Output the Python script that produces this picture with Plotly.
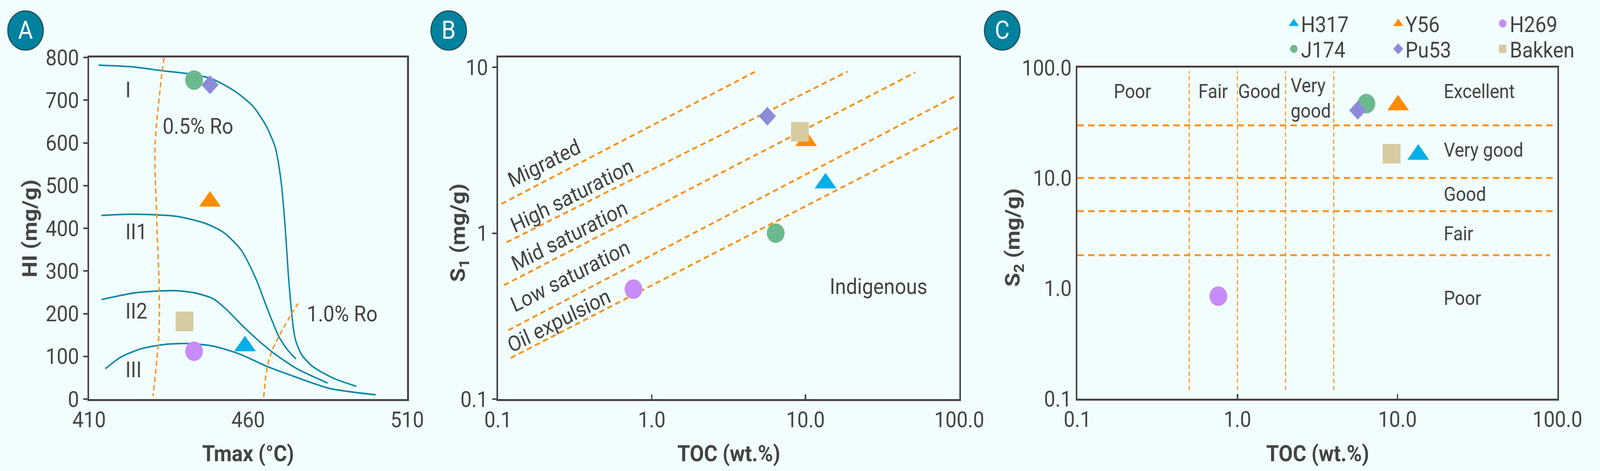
import numpy as np
import plotly.graph_objects as go

# sample data
wells = ["H317", "Y56", "H269", "J174", "Pu53", "Bakken"]
tmax = [459, 448, 443, 443, 448, 440]
hi = [124, 463, 112, 747, 736, 182]
toc = [13.5, 10.1, 0.76, 6.4, 5.65, 9.2]
s1 = [2.0, 3.6, 0.46, 1.0, 5.07, 4.08]
s2 = [16.3, 45.7, 0.85, 47.2, 41.0, 16.6]

# kerogen type curves (panel A)
type_i_t = [413.0, 423.6, 432.9, 441.2, 448.6, 456.0, 461.6, 465.7, 468.5, 470.3, 471.6,
            472.6, 473.7, 474.4, 475.2, 476.9, 480.0, 483.4, 487.7, 494.0]
type_i_hi = [782, 778, 769, 762, 750, 720, 685, 639, 590, 513, 407,
             295, 200, 156, 131, 103, 78, 62, 46, 30]
type_ii1_t = [413.9, 423.6, 437.5, 446.7, 452.3, 457.9, 462.5, 465.3, 467.5, 469.6, 472.2, 475.0]
type_ii1_hi = [430, 433, 428, 411, 390, 348, 281, 226, 184, 147, 117, 94]
type_ii2_t = [413.9, 424.5, 436.6, 443.0, 449.0, 453.3, 457.5, 463.1, 468.3, 475.6, 485.0]
type_ii2_hi = [233, 249, 254, 249, 235, 209, 177, 138, 106, 70, 37.5]
type_iii_t = [415.1, 419.9, 426.4, 433.8, 441.2, 449.0, 457.5, 466.1, 474.8, 485.6, 500.1]
type_iii_hi = [71, 98, 118, 128, 130, 124, 105, 76, 52, 25, 10]

# vitrinite reflectance lines
ro05_t = [433.6, 433.0, 432.2, 431.3, 430.8, 430.7, 431.0, 431.4, 432.0, 432.0, 431.0, 430.1]
ro05_hi = [799, 770, 717, 654, 602, 549, 479, 390, 267, 161, 70, 7]
ro10_t = [464.9, 466.0, 467.5, 469.6, 473.7, 475.7]
ro10_hi = [5, 75, 113, 146, 200, 224]

# saturation boundaries (panel B), start and end points
sat_x0 = [0.105, 0.1135, 0.1094, 0.1167, 0.121]
sat_y0 = [1.50, 0.88, 0.486, 0.26, 0.177]
sat_x1 = [4.72, 18.8, 51.8, 93.8, 100]
sat_y1 = [9.42, 9.42, 9.31, 6.68, 4.36]

# source rock quality bounds (panel C)
toc_class = [0.5, 1, 2, 4]
s2_class = [2, 5, 10, 30]
s2_line_end = [90, 97, 97, 97]

colors = ["#00AEE8", "#FF8C00", "#C88CF8", "#6DB98E", "#8B8BD9", "#D6CBA0"]
symbols = ["triangle-up", "triangle-up", "circle", "circle", "diamond", "square"]
sizes = [53, 53, 50, 50, 37, 50]

TXT = "#444444"
ORANGE = "#F7931E"
TEAL = "#0A87A6"
BG = "#F2FEFE"
FONT = "Roboto"
W, H = 4505, 1205

fig = go.Figure()

# ---- panel A
for t, h in [(type_i_t, type_i_hi), (type_ii1_t, type_ii1_hi),
             (type_ii2_t, type_ii2_hi), (type_iii_t, type_iii_hi)]:
    fig.add_trace(go.Scatter(x=t, y=h, mode="lines", line=dict(color=TEAL, width=4, shape="spline", smoothing=0.7),
                             showlegend=False, hoverinfo="skip", xaxis="x", yaxis="y"))
for t, h in [(ro05_t, ro05_hi), (ro10_t, ro10_hi)]:
    fig.add_trace(go.Scatter(x=t, y=h, mode="lines", line=dict(color=ORANGE, width=4, dash="13px,8px", shape="spline"),
                             showlegend=False, hoverinfo="skip", xaxis="x", yaxis="y"))

# ---- panel B
for i in range(len(sat_x0)):
    fig.add_trace(go.Scatter(x=[sat_x0[i], sat_x1[i]], y=[sat_y0[i], sat_y1[i]], mode="lines",
                             line=dict(color=ORANGE, width=5, dash="15px,10px"),
                             showlegend=False, hoverinfo="skip", xaxis="x2", yaxis="y2"))

# ---- panel C
for v in toc_class:
    fig.add_trace(go.Scatter(x=[v, v], y=[0.12, 93], mode="lines",
                             line=dict(color=ORANGE, width=3, dash="11px,7px"),
                             showlegend=False, hoverinfo="skip", xaxis="x3", yaxis="y3"))
for v, e in zip(s2_class, s2_line_end):
    fig.add_trace(go.Scatter(x=[0.1, e], y=[v, v], mode="lines",
                             line=dict(color=ORANGE, width=5, dash="18px,12px"),
                             showlegend=False, hoverinfo="skip", xaxis="x3", yaxis="y3"))

# sample markers in all three panels
for i, w in enumerate(wells):
    mk = dict(symbol=symbols[i], color=colors[i], size=sizes[i], line=dict(width=0))
    fig.add_trace(go.Scatter(x=[tmax[i]], y=[hi[i]], mode="markers", marker=mk, name=w,
                             showlegend=False, xaxis="x", yaxis="y"))
    fig.add_trace(go.Scatter(x=[toc[i]], y=[s1[i]], mode="markers", marker=mk, name=w,
                             showlegend=False, xaxis="x2", yaxis="y2"))
    fig.add_trace(go.Scatter(x=[toc[i]], y=[s2[i]], mode="markers", marker=mk, name=w,
                             showlegend=False, xaxis="x3", yaxis="y3"))
    # legend keys
    fig.add_trace(go.Scatter(x=[None], y=[None], mode="markers", name=w,
                             marker=dict(symbol=symbols[i], color=colors[i], size=16,
                                         line=dict(color=colors[i], width=5)),
                             legend="legend" if i < 3 else "legend2", xaxis="x3", yaxis="y3"))

tick_font = dict(family=FONT, size=56, color=TXT)
title_font = dict(family=FONT, size=58, color=TXT, weight="bold")
base = dict(showline=True, mirror=True, linecolor=TXT, linewidth=5, showgrid=False, zeroline=False,
            tickfont=tick_font, tickcolor=TXT, tickwidth=4, ticklen=12, automargin=False)

def dom(a, b, n):
    return [a / n, b / n]

fig.update_layout(
    template="none",
    width=W, height=H, margin=dict(l=0, r=0, t=0, b=0),
    paper_bgcolor=BG, plot_bgcolor=BG,
    font=dict(family=FONT, color=TXT),
    xaxis=dict(base, domain=dom(251, 1147, W), anchor="y", range=[410, 510], tickvals=[410, 460, 510], ticks=""),
    yaxis=dict(base, domain=[1 - 1021 / H, 1 - 147 / H], anchor="x", range=[0, 800], dtick=100, ticks="outside"),
    xaxis2=dict(base, domain=dom(1403, 2702, W), anchor="y2", type="log", range=[-1, 2],
                tickvals=[0.1, 1, 10, 100], ticktext=["0.1", "1.0", "10.0", "100.0"], ticks="inside"),
    yaxis2=dict(base, domain=[1 - 1021 / H, 1 - 147 / H], anchor="x2", type="log", range=[-1, 1.059],
                tickvals=[0.1, 1, 10], ticktext=["0.1", "1", "10"], ticks="outside"),
    xaxis3=dict(base, domain=dom(3035, 4387, W), anchor="y3", type="log", range=[-1, 2],
                tickvals=[0.1, 1, 10, 100], ticktext=["0.1", "1.0", "10.0", "100.0"], ticks="inside"),
    yaxis3=dict(base, domain=[1 - 1020 / H, 1 - 173 / H], anchor="x3", type="log", range=[-1, 2],
                tickvals=[0.1, 1, 10, 100], ticktext=["0.1", "1.0", "10.0", "100.0"], ticks=""),
    legend=dict(orientation="h", x=3625 / W, xanchor="left", y=1 - 60 / H, yanchor="middle",
                font=dict(family=FONT, size=56, color=TXT), bgcolor="rgba(0,0,0,0)",
                entrywidth=249, entrywidthmode="pixels", itemclick=False),
    legend2=dict(orientation="h", x=3625 / W, xanchor="left", y=1 - 125 / H, yanchor="middle",
                 font=dict(family=FONT, size=56, color=TXT), bgcolor="rgba(0,0,0,0)",
                 entrywidth=249, entrywidthmode="pixels", itemclick=False),
)

# axis titles, placed as in the reference
for txt, cx, cy, ang in [("Tmax (°C)", 699, 1160, 0), ("TOC (wt.%)", 2053, 1160, 0), ("TOC (wt.%)", 3712, 1160, 0),
                         ("HI (mg/g)", 83, 584, -90), ("S<sub>1</sub> (mg/g)", 1293, 595, -90),
                         ("S<sub>2</sub> (mg/g)", 2856, 608, -90)]:
    fig.add_annotation(x=cx / W, y=1 - cy / H, xref="paper", yref="paper", text=txt, showarrow=False,
                       font=title_font, textangle=ang, xanchor="center", yanchor="middle")

# panel badges
for letter, cx in [("A", 72), ("B", 1264), ("C", 2823)]:
    fig.add_shape(type="circle", xref="paper", yref="paper",
                  x0=(cx - 50) / W, x1=(cx + 50) / W, y0=1 - 128 / H, y1=1 - 28 / H,
                  fillcolor="#00829F", line=dict(color="#1F4F5C", width=3))
    fig.add_annotation(x=cx / W, y=1 - 78 / H, xref="paper", yref="paper", text=letter, showarrow=False,
                       font=dict(family=FONT, size=64, color="white"), xanchor="center", yanchor="middle")

lbl = dict(family=FONT, size=56, color=TXT)

# panel A labels
for txt, x, y in [("I", 421.2, 724), ("II1", 421.2, 392), ("II2", 421.2, 206), ("III", 421.2, 69),
                  ("0.5% Ro", 432.9, 639), ("1.0% Ro", 478.2, 200)]:
    fig.add_annotation(x=x, y=y, xref="x", yref="y", text=txt, showarrow=False, font=lbl,
                       xanchor="left", yanchor="middle")

# panel B labels
lblb = dict(family=FONT, size=55, color=TXT)
for txt, x, y in [("Migrated", 0.199, 2.64), ("High saturation", 0.303, 1.69), ("Mid saturation", 0.291, 0.963),
                  ("Low saturation", 0.294, 0.552), ("Oil expulsion", 0.249, 0.298)]:
    fig.add_annotation(x=np.log10(x), y=np.log10(y), xref="x2", yref="y2", text=txt, showarrow=False,
                       font=lblb, textangle=-25, xanchor="center", yanchor="middle")
fig.add_annotation(x=np.log10(29.9), y=np.log10(0.476), xref="x2", yref="y2", text="Indigenous",
                   showarrow=False, font=lbl)

# panel C labels
lblc = dict(family=FONT, size=50, color=TXT)
for txt, x, y in [("Poor", 0.221, 60.8), ("Fair", 0.705, 60.8), ("Good", 1.37, 60.8)]:
    fig.add_annotation(x=np.log10(x), y=np.log10(y), xref="x3", yref="y3", text=txt, showarrow=False, font=lblc)
fig.add_annotation(x=np.log10(2.13), y=np.log10(52.7), xref="x3", yref="y3", text="Very<br>good",
                   showarrow=False, font=lblc, xanchor="left", align="left")
for txt, y in [("Excellent", 60.8), ("Very good", 17.9), ("Good", 7.1), ("Fair", 3.13), ("Poor", 0.81)]:
    fig.add_annotation(x=np.log10(19.3), y=np.log10(y), xref="x3", yref="y3", text=txt, showarrow=False,
                       font=lblc, xanchor="left")

# the page viewport is not exactly the figure size, so stretch the graph to fill it
fit_js = """
var gd = document.getElementById('{plot_id}');
document.documentElement.style.margin = '0';
document.body.style.margin = '0';
document.documentElement.style.overflow = 'hidden';
document.body.style.overflow = 'hidden';
var sx = window.innerWidth / %d, sy = window.innerHeight / %d;
gd.style.transformOrigin = '0 0';
gd.style.transform = 'scale(' + sx + ',' + sy + ')';
""" % (W, H)

fig.write_html("out.html", post_script=fit_js, config={"displayModeBar": False})
